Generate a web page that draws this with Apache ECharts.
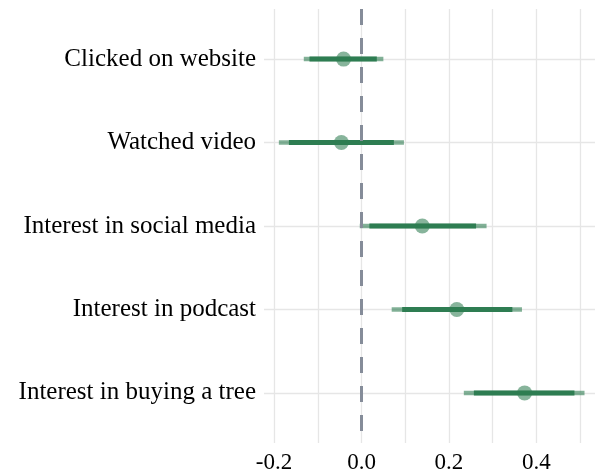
<!DOCTYPE html>
<html>
<head>
<meta charset="utf-8">
<script src="https://cdn.jsdelivr.net/npm/echarts@6/dist/echarts.min.js"></script>
<style>
  html, body { margin: 0; padding: 0; background: #fff; }
  #chart { width: 595px; height: 474px; }
</style>
</head>
<body>
<div id="chart"></div>
<script>
// rows, top to bottom
var labels = ['Clicked on website', 'Watched video', 'Interest in social media', 'Interest in podcast', 'Interest in buying a tree'];
var estimate = [-0.041, -0.046, 0.139, 0.218, 0.373];
// inner (thick) interval
var innerLow = [-0.119, -0.166, 0.018, 0.093, 0.257];
var innerHigh = [0.035, 0.074, 0.262, 0.345, 0.487];
// outer (thin) interval
var outerLow = [-0.132, -0.189, -0.004, 0.069, 0.234];
var outerHigh = [0.050, 0.097, 0.286, 0.367, 0.510];
// x gridlines and tick labels
var xGrid = [-0.2, -0.1, 0, 0.1, 0.2, 0.3, 0.4, 0.5];
var xTicks = [-0.2, 0, 0.2, 0.4];

var rowIdx = labels.map(function (d, i) { return i; });

function rangeData(lo, hi) {
    return lo.map(function (v, i) { return [v, hi[i], i]; });
}

function rangeRenderer(color, width) {
    return function (params, api) {
        var a = api.coord([api.value(0), api.value(2)]);
        var b = api.coord([api.value(1), api.value(2)]);
        return {
            type: 'line',
            shape: { x1: a[0], y1: a[1], x2: b[0], y2: b[1] },
            style: { stroke: color, lineWidth: width, lineCap: 'butt' }
        };
    };
}

var font = 'Liberation Serif';

var chart = echarts.init(document.getElementById('chart'));
chart.setOption({
    animation: false,
    backgroundColor: '#ffffff',
    grid: { left: 264, right: 0, top: 9, bottom: 30 },
    xAxis: {
        type: 'value',
        min: -0.223,
        max: 0.534,
        axisLine: { show: false },
        axisTick: { show: false, customValues: xGrid },
        axisLabel: {
            customValues: xTicks,
            fontFamily: font,
            fontSize: 23,
            color: '#000',
            margin: 8,
            formatter: function (v) { return v.toFixed(1); }
        },
        splitLine: { show: true, lineStyle: { color: '#e6e6e6', width: 1.3 } }
    },
    yAxis: {
        type: 'value',
        inverse: true,
        min: -0.6,
        max: 4.6,
        axisLine: { show: false },
        axisTick: { show: false, customValues: rowIdx },
        axisLabel: {
            customValues: rowIdx,
            fontFamily: font,
            fontSize: 25,
            color: '#000',
            margin: 8,
            formatter: function (v) { return labels[Math.round(v)]; }
        },
        splitLine: { show: true, lineStyle: { color: '#e6e6e6', width: 1.3 } }
    },
    series: [
        {
            type: 'custom',
            renderItem: rangeRenderer('rgba(46,125,82,0.6)', 4.5),
            data: rangeData(outerLow, outerHigh),
            encode: { x: [0, 1], y: 2 },
            z: 2
        },
        {
            type: 'custom',
            renderItem: rangeRenderer('#2e7d52', 5),
            data: rangeData(innerLow, innerHigh),
            encode: { x: [0, 1], y: 2 },
            z: 3
        },
        {
            type: 'scatter',
            data: estimate.map(function (v, i) { return [v, i]; }),
            symbolSize: 15,
            itemStyle: { color: 'rgba(46,125,82,0.72)' },
            z: 4,
            markLine: {
                silent: true,
                symbol: 'none',
                label: { show: false },
                lineStyle: { color: '#858c99', width: 3, type: [16, 13] },
                data: [{ xAxis: 0 }]
            }
        }
    ]
});
</script>
</body>
</html>
